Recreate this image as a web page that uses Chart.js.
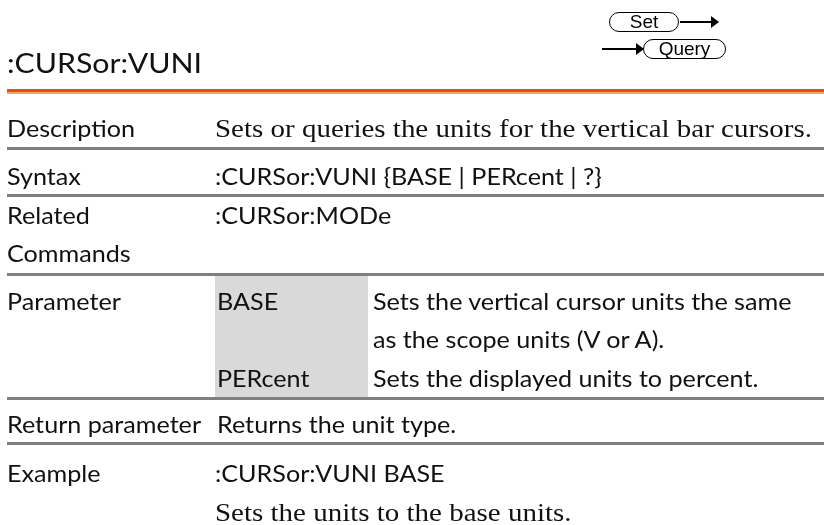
<!DOCTYPE html>
<html>
<head>
<meta charset="utf-8">
<script src="https://cdn.jsdelivr.net/npm/chart.js@4.4.1/dist/chart.umd.min.js"></script>
<style>
  html, body { margin: 0; padding: 0; background: #fff; }
  #page { position: relative; width: 824px; height: 525px; overflow: hidden; }
  .t { position: absolute; white-space: nowrap; color: #111; transform-origin: 0 0; }
  .sans { font-family: Lato, "Open Sans", sans-serif; }
  .serif { font-family: "Liberation Serif", "DejaVu Serif", serif; }
  .rule { position: absolute; left: 7px; right: 0; height: 3px; background: #7f7f7f; }
  .pill { position: absolute; border: 1.5px solid #000; border-radius: 11px; font-family: "Liberation Sans Narrow", "Liberation Sans", sans-serif; font-size: 19px; text-align: center; line-height: 18px; height: 18px; box-sizing: content-box; }
  .arrow { position: absolute; height: 2px; background: #000; }
  .arrow::after { content: ""; position: absolute; right: -2px; top: -5px; border-left: 8px solid #000; border-top: 6px solid transparent; border-bottom: 6px solid transparent; }
</style>
</head>
<body>
<div id="page">
  <canvas id="bg" width="824" height="525" style="position:absolute;left:0;top:0"></canvas>
</div>
<script>
// ---- page content ----
const title = ':CURSor:VUNI';
const rowLabels = ['Description', 'Syntax', 'Related|Commands', 'Parameter', 'Return parameter', 'Example'];
const rowValues = [
  'Sets or queries the units for the vertical bar cursors.',
  ':CURSor:VUNI {BASE | PERcent | ?}',
  ':CURSor:MODe',
  '',
  'Returns the unit type.',
  ':CURSor:VUNI BASE|Sets the units to the base units.'
];
const paramNames = ['BASE', 'PERcent'];
const paramDescs = ['Sets the vertical cursor units the same|as the scope units (V or A).', 'Sets the displayed units to percent.'];

const page = document.getElementById('page');

// place a text with its baseline at y, horizontally scaled by sx
function put(text, x, base, cls, size, sx) {
  const el = document.createElement('div');
  el.className = 't ' + cls;
  el.textContent = text;
  el.style.fontSize = size + 'px';
  el.style.lineHeight = size + 'px';
  el.style.left = x + 'px';
  const mark = document.createElement('span');
  mark.style.display = 'inline-block';
  mark.style.width = '0';
  mark.style.height = '0';
  el.appendChild(mark);
  page.appendChild(el);
  el.style.top = (base - mark.offsetTop) + 'px';
  if (sx) el.style.transform = 'scaleX(' + sx + ')';
  return el;
}

// scale factor so that text in a class/size spans the given width
function fitScale(text, cls, size, width) {
  const el = put(text, 0, -100, cls, size);
  const w = el.getBoundingClientRect().width;
  el.remove();
  return width / w;
}

function rule(y, h, color) {
  const r = document.createElement('div');
  r.className = 'rule';
  r.style.top = y + 'px';
  if (h) r.style.height = h + 'px';
  if (color) r.style.background = color;
  page.appendChild(r);
}

// shaded parameter column, drawn through a Chart.js canvas (no axes, no data)
const shade = {
  id: 'shade',
  beforeDraw(chart) {
    const c = chart.ctx;
    c.save();
    c.fillStyle = '#d9d9d9';
    c.fillRect(215, 276, 153, 121);
    c.restore();
  }
};
new Chart(document.getElementById('bg'), {
  type: 'bar',
  data: { labels: [], datasets: [] },
  options: {
    responsive: false,
    animation: false,
    plugins: { legend: { display: false }, tooltip: { enabled: false } },
    scales: { x: { display: false }, y: { display: false } }
  },
  plugins: [shade]
});

// header
const sT = fitScale(title, 'sans', 27, 195);
put(title, 7, 73, 'sans', 27, sT);
const set = document.createElement('div');
set.className = 'pill'; set.textContent = 'Set';
Object.assign(set.style, { left: '609px', top: '12px', width: '68px' });
page.appendChild(set);
const q = document.createElement('div');
q.className = 'pill'; q.textContent = 'Query';
Object.assign(q.style, { left: '643px', top: '39px', width: '81px' });
page.appendChild(q);
const a1 = document.createElement('div'); a1.className = 'arrow';
Object.assign(a1.style, { left: '680px', top: '21px', width: '37px' }); page.appendChild(a1);
const a2 = document.createElement('div'); a2.className = 'arrow';
Object.assign(a2.style, { left: '602px', top: '48px', width: '40px' }); page.appendChild(a2);

rule(89, 3, '#e2500c');
rule(92, 2, '#f4a36a');

// rows
const S = 24, SR = 26;
const sx = fitScale(rowLabels[0], 'sans', S, 128);
const sr = fitScale(rowValues[0], 'serif', SR, 597);
const V = 215, P = 373;

put(rowLabels[0], 7, 137, 'sans', S, sx);
put(rowValues[0], V, 137, 'serif', SR, sr);
rule(147);

put(rowLabels[1], 7, 185, 'sans', S, sx);
put(rowValues[1], V, 185, 'sans', S, sx);
rule(194);

const rel = rowLabels[2].split('|');
put(rel[0], 7, 224, 'sans', S, sx);
put(rel[1], 7, 262, 'sans', S, sx);
put(rowValues[2], V, 224, 'sans', S, sx);
rule(273);

put(rowLabels[3], 7, 310, 'sans', S, sx);
put(paramNames[0], V + 2, 310, 'sans', S, sx);
const pd = paramDescs[0].split('|');
put(pd[0], P, 310, 'sans', S, sx);
put(pd[1], P, 348, 'sans', S, sx);
put(paramNames[1], V + 2, 387, 'sans', S, sx);
put(paramDescs[1], P, 387, 'sans', S, sx);
rule(397);

put(rowLabels[4], 7, 433, 'sans', S, sx);
put(rowValues[4], 217, 433, 'sans', S, sx);
rule(442);

put(rowLabels[5], 7, 482, 'sans', S, sx);
const ex = rowValues[5].split('|');
put(ex[0], V, 482, 'sans', S, sx);
put(ex[1], V, 521, 'serif', SR, sr);
</script>
</body>
</html>
